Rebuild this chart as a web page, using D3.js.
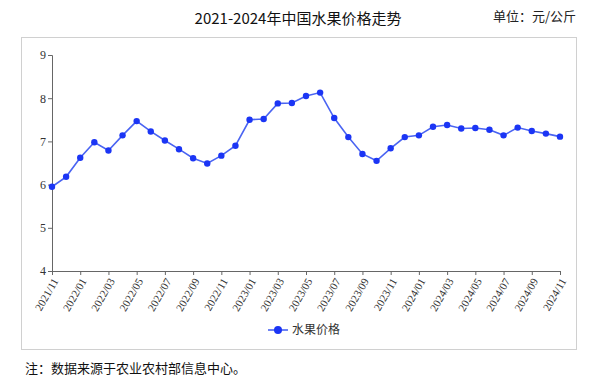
<!DOCTYPE html>
<html><head><meta charset="utf-8">
<script src="https://cdn.jsdelivr.net/npm/d3@7/dist/d3.min.js"></script>
<style>body{margin:0;background:#fff}svg{display:block}</style>
</head><body>
<svg id="c" width="603" height="383"></svg>
<script>
const months = ["2021/11","2021/12","2022/01","2022/02","2022/03","2022/04","2022/05","2022/06","2022/07","2022/08","2022/09","2022/10","2022/11","2022/12","2023/01","2023/02","2023/03","2023/04","2023/05","2023/06","2023/07","2023/08","2023/09","2023/10","2023/11","2023/12","2024/01","2024/02","2024/03","2024/04","2024/05","2024/06","2024/07","2024/08","2024/09","2024/10","2024/11"];
const prices = [5.95,6.18,6.62,6.98,6.79,7.14,7.47,7.23,7.02,6.82,6.61,6.49,6.67,6.90,7.50,7.52,7.88,7.89,8.05,8.13,7.54,7.10,6.71,6.55,6.84,7.10,7.14,7.34,7.38,7.30,7.31,7.27,7.14,7.32,7.24,7.18,7.11];
const yTicks = [4,5,6,7,8,9];
const tickLabels = months.filter((d,i)=>i%2===0);
const title = "2021-2024年中国水果价格走势";
const unit = "单位：元/公斤";
const seriesName = "水果价格";
const note = "注：数据来源于农业农村部信息中心。";

const SER = "Liberation Serif, DejaVu Serif, serif";
const CJK = "Noto Sans CJK SC, sans-serif";
const svg = d3.select("#c");

svg.append("text").style("font-family",CJK).attr("x",298).attr("y",24).attr("text-anchor","middle")
  .attr("font-size",15).attr("fill","#111").text(title);
svg.append("text").style("font-family",CJK).attr("x",576).attr("y",21).attr("text-anchor","end")
  .attr("font-size",13).attr("fill","#222").text(unit);

svg.append("rect").attr("x",21.5).attr("y",37.5).attr("width",555).attr("height",312)
  .attr("fill","none").attr("stroke","#d0d0d0").attr("stroke-width",1);

const x = d3.scalePoint().domain(months).range([52,560]);
const y = d3.scaleLinear().domain([4,9]).range([271,55]);

const yAxis = svg.append("g").attr("transform","translate(52,0)")
  .call(d3.axisLeft(y).tickValues(yTicks).tickFormat(d3.format("d")).tickSize(4).tickPadding(2));
yAxis.attr("font-family",null);
yAxis.selectAll("text").style("font-family",SER).style("font-size","12px").attr("fill","#333");
yAxis.select(".domain").attr("stroke","#666");
yAxis.selectAll(".tick line").attr("stroke","#666");

const xAxis = svg.append("g").attr("transform","translate(0,271)")
  .call(d3.axisBottom(x).tickValues(tickLabels).tickSize(4).tickSizeOuter(0));
xAxis.attr("font-family",null);
xAxis.select(".domain").attr("stroke","#666");
xAxis.selectAll(".tick line").attr("stroke","#666");
xAxis.selectAll("text").style("font-family",SER).style("font-size","11px").attr("fill","#333")
  .attr("text-anchor","end").attr("dy","0.35em")
  .attr("transform","translate(3,8) rotate(-60)").attr("y",0).attr("x",0);

const line = d3.line().x((d,i)=>x(months[i])).y(d=>y(d));
svg.append("path").datum(prices).attr("d",line).attr("fill","none")
  .attr("stroke","#4a64f2").attr("stroke-width",1.6);
svg.selectAll("circle.pt").data(prices).enter().append("circle").attr("class","pt")
  .attr("cx",(d,i)=>x(months[i])).attr("cy",d=>y(d)).attr("r",3.2).attr("fill","#1b35f5");

const lg = svg.append("g").attr("transform","translate(0,330)");
lg.append("line").attr("x1",268).attr("x2",288).attr("y1",0).attr("y2",0).attr("stroke","#4a64f2").attr("stroke-width",1.6);
lg.append("circle").attr("cx",278).attr("cy",0).attr("r",4).attr("fill","#1b35f5");
lg.append("text").style("font-family",CJK).attr("x",292).attr("y",4).attr("font-size",12).attr("fill","#333").text(seriesName);

svg.append("text").style("font-family",CJK).attr("x",25).attr("y",373).attr("font-size",13).attr("fill","#111").text(note);
</script>
</body></html>
